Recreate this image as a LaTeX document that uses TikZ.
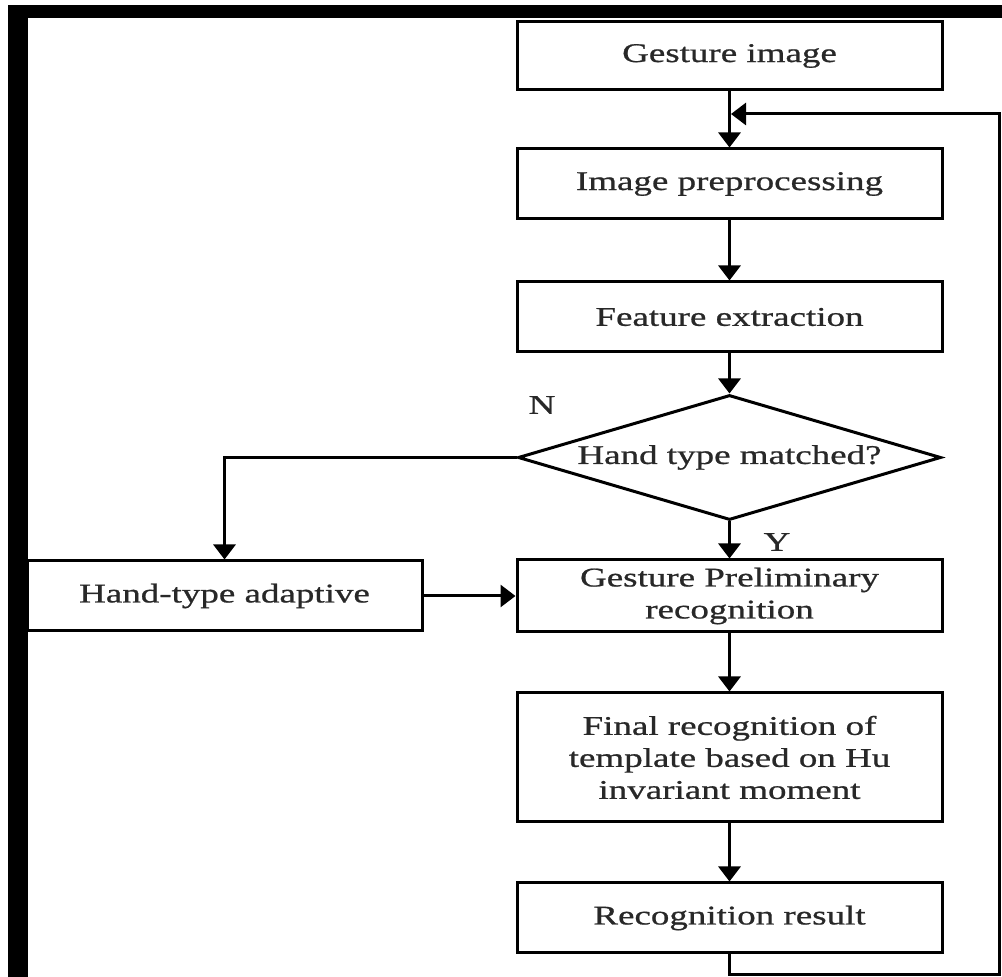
\documentclass[tikz,border=0pt]{standalone}
\usepackage{fontspec}
\setmainfont{Liberation Serif}[FakeStretch=1.37,FakeBold=0.8]
\usetikzlibrary{positioning,arrows.meta,shapes.geometric}
\definecolor{gsInk}{RGB}{40,40,40}

\begin{document}
\begin{tikzpicture}[
  x=0.5pt, y=-0.5pt,
  node distance=28pt,
  every node/.style={font=\fontsize{13.5}{16}\selectfont, text=gsInk},
  block/.style={draw, line width=1.5pt, minimum width=212.5pt, minimum height=35pt, align=center, inner sep=2pt},
  decision/.style={draw, diamond, line width=1.5pt, aspect=3.38, inner sep=0pt, minimum width=211.5pt, minimum height=62.5pt},
  arrow/.style={-{Triangle[width=11pt,length=7.5pt]}, line width=1.5pt},
  tag/.style={inner sep=0pt}
]
\useasboundingbox (0,0) rectangle (1002,977);

% Heavy frame (top and left)
\fill (8,5) rectangle (1002,18);
\fill (8,5) rectangle (28,977);

% Main recognition chain
\node[block, minimum height=34pt] (gesture) at (729.5,56) {Gesture image};
\node[block, below=28pt of gesture] (prep) {Image preprocessing};
\node[block, below=30pt of prep] (feature) {Feature extraction};
\node[decision, below=20pt of feature] (match) {Hand type matched?};
\node[block, below=18.5pt of match, minimum height=36pt] (prelim) {Gesture Preliminary\\recognition};
\node[block, below=29pt of prelim, minimum height=64.5pt] (final) {Final recognition of\\template based on Hu\\invariant moment};
\node[block, below=29pt of final] (result) {Recognition result};

% Side branch
\node[block, left=46pt of prelim, minimum width=197.5pt] (adapt) {Hand-type adaptive};

% Branch labels
\node[tag] (no) at (542,405) {N};
\node[tag] (yes) at (777,542) {Y};

% Loop points
\coordinate (merge) at (731,114);
\coordinate (loop) at (999,975);

% Arrows - main chain
\draw[arrow] (gesture) -- (prep);
\draw[arrow] (prep) -- (feature);
\draw[arrow] (feature) -- (match);
\draw[arrow] (match) -- (prelim);
\draw[arrow] (prelim) -- (final);
\draw[arrow] (final) -- (result);

% Arrows - branch
\draw[arrow] (match.west) -| (adapt.north);
\draw[arrow] (adapt) -- (prelim);

% Feedback loop
\draw[arrow] (result.south) |- (loop) |- (merge);

\end{tikzpicture}
\end{document}
